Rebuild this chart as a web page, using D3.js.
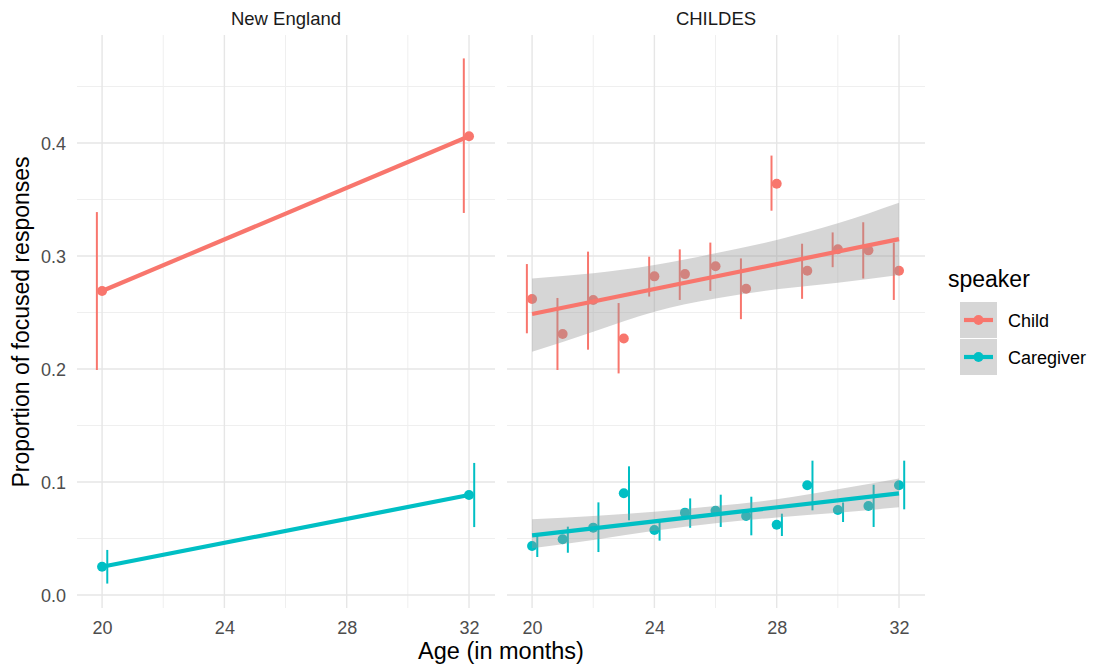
<!DOCTYPE html>
<html>
<head>
<meta charset="utf-8">
<script src="https://cdnjs.cloudflare.com/ajax/libs/d3/7.8.5/d3.min.js"></script>
<style>
body { margin: 0; background: #fff; }
svg { font-family: "Liberation Sans", Arial, sans-serif; }
</style>
</head>
<body>
<svg class="chart" width="1094" height="666"></svg>
<script>
var speakers = ["Child", "Caregiver"],
	panels = ["New England", "CHILDES"],
	xTicks = [20, 24, 28, 32],
	xMinor = [22, 26, 30],
	yTicks = [0, 0.1, 0.2, 0.3, 0.4],
	yMinor = [0.05, 0.15, 0.25, 0.35, 0.45];

// New England: two ages only
var neAges = [20, 32],
	neChild = [0.269, 0.406],
	neChildLo = [0.200, 0.339],
	neChildHi = [0.338, 0.474],
	neCare = [0.025, 0.0885],
	neCareLo = [0.011, 0.061],
	neCareHi = [0.039, 0.116];

// CHILDES: monthly means
var chAges = [20, 21, 22, 23, 24, 25, 26, 27, 28, 29, 30, 31, 32],
	chChild = [0.262, 0.231, 0.261, 0.227, 0.282, 0.284, 0.291, 0.271, 0.364, 0.287, 0.306, 0.305, 0.287],
	chChildLo = [0.2325, 0.200, 0.218, 0.197, 0.265, 0.262, 0.270, 0.245, 0.341, 0.263, 0.291, 0.281, 0.262],
	chChildHi = [0.292, 0.262, 0.303, 0.2575, 0.2985, 0.305, 0.311, 0.297, 0.388, 0.310, 0.320, 0.329, 0.311],
	chCare = [0.0434, 0.0493, 0.0596, 0.090, 0.0575, 0.0729, 0.0746, 0.0699, 0.0622, 0.0971, 0.0752, 0.0788, 0.0971],
	chCareLo = [0.0345, 0.0383, 0.0389, 0.067, 0.049, 0.0604, 0.0611, 0.0537, 0.0531, 0.0758, 0.0655, 0.0611, 0.0767],
	chCareHi = [0.0516, 0.0596, 0.0811, 0.113, 0.066, 0.0846, 0.0879, 0.0861, 0.0711, 0.118, 0.081, 0.0967, 0.118];

// fitted lines and confidence bands
var fitAges = [20, 32],
	neChildFit = [0.269, 0.406],
	neCareFit = [0.025, 0.0885],
	chChildFit = [0.2487, 0.315],
	chCareFit = [0.0528, 0.090],
	bandAges = [20, 22, 24, 26, 28, 30, 32],
	chChildBandLo = [0.2153, 0.233, 0.2507, 0.2625, 0.2705, 0.2764, 0.2832],
	chChildBandHi = [0.2802, 0.2847, 0.292, 0.3024, 0.3142, 0.3289, 0.3472],
	chCareBandLo = [0.0413, 0.0487, 0.0569, 0.0634, 0.0687, 0.0728, 0.0776],
	chCareBandHi = [0.067, 0.0699, 0.0737, 0.0788, 0.0847, 0.0935, 0.1032];

var colors = { Child: "#F8766D", Caregiver: "#00BFC4" },
	gridcolor = "#E6E6E6",
	textcolor = "#4D4D4D",
	dodge = { Child: -0.17, Caregiver: 0.17 };

function rows(ages, m, lo, hi) {
	return ages.map(function(a, i) {
		return { age: a, mean: m[i], lo: lo[i], hi: hi[i] };
	});
}
function pairs(ages, v) {
	return ages.map(function(a, i) { return { age: a, v: v[i] }; });
}

var panelData = [
	{
		name: panels[0], x0: 77,
		series: {
			Child: { pts: rows(neAges, neChild, neChildLo, neChildHi), fit: pairs(fitAges, neChildFit), band: null },
			Caregiver: { pts: rows(neAges, neCare, neCareLo, neCareHi), fit: pairs(fitAges, neCareFit), band: null }
		}
	},
	{
		name: panels[1], x0: 507,
		series: {
			Child: {
				pts: rows(chAges, chChild, chChildLo, chChildHi), fit: pairs(fitAges, chChildFit),
				band: bandAges.map(function(a, i) { return { age: a, lo: chChildBandLo[i], hi: chChildBandHi[i] }; })
			},
			Caregiver: {
				pts: rows(chAges, chCare, chCareLo, chCareHi), fit: pairs(fitAges, chCareFit),
				band: bandAges.map(function(a, i) { return { age: a, lo: chCareBandLo[i], hi: chCareBandHi[i] }; })
			}
		}
	}
];

var svg = d3.select(".chart"),
	panelW = 418,
	plotTop = 35,
	plotBottom = 608;

var y = d3.scaleLinear()
	.domain([-0.0115, 0.4956])
	.range([plotBottom, plotTop]);

panelData.forEach(function(p, pi) {
	var x = d3.scaleLinear()
		.domain([19.18, 32.85])
		.range([p.x0, p.x0 + panelW]);
	var g = svg.append("g");

	// grid
	g.selectAll(".ymin").data(yMinor).enter().append("line")
		.attr("x1", p.x0).attr("x2", p.x0 + panelW)
		.attr("y1", function(d) { return y(d); }).attr("y2", function(d) { return y(d); })
		.attr("stroke", "#EFEFEF").attr("stroke-width", 1);
	g.selectAll(".xmin").data(xMinor).enter().append("line")
		.attr("x1", function(d) { return x(d); }).attr("x2", function(d) { return x(d); })
		.attr("y1", plotTop).attr("y2", plotBottom)
		.attr("stroke", "#EFEFEF").attr("stroke-width", 1);
	g.selectAll(".ymaj").data(yTicks).enter().append("line")
		.attr("x1", p.x0).attr("x2", p.x0 + panelW)
		.attr("y1", function(d) { return y(d); }).attr("y2", function(d) { return y(d); })
		.attr("stroke", gridcolor).attr("stroke-width", 1.4);
	g.selectAll(".xmaj").data(xTicks).enter().append("line")
		.attr("x1", function(d) { return x(d); }).attr("x2", function(d) { return x(d); })
		.attr("y1", plotTop).attr("y2", plotBottom)
		.attr("stroke", gridcolor).attr("stroke-width", 1.4);

	// strip label
	g.append("text")
		.attr("x", p.x0 + panelW / 2)
		.attr("y", 25)
		.attr("text-anchor", "middle")
		.attr("fill", "#1A1A1A")
		.style("font-size", "18.5px")
		.text(p.name);

	// x axis
	var bot = g.append("g")
		.attr("transform", "translate(0," + 615 + ")")
		.call(d3.axisBottom(x).tickValues(xTicks).tickSize(0).tickPadding(0));
	bot.select(".domain").remove();
	bot.selectAll("text")
		.attr("dy", "0")
		.attr("y", 18.5)
		.style("fill", textcolor)
		.style("font-size", "18px")
		.style("font-family", "Liberation Sans, Arial, sans-serif");

	if (pi === 0) {
		var left = g.append("g")
			.attr("transform", "translate(" + 66 + ",0)")
			.call(d3.axisLeft(y).tickValues(yTicks).tickSize(0).tickPadding(0).tickFormat(d3.format(".1f")));
		left.select(".domain").remove();
		left.selectAll("text")
			.attr("dy", "0.36em")
			.style("fill", textcolor)
			.style("font-size", "18px")
			.style("font-family", "Liberation Sans, Arial, sans-serif");
	}

	speakers.forEach(function(s) {
		var ser = p.series[s];
		g.selectAll(".pt" + s).data(ser.pts).enter().append("circle")
			.attr("cx", function(d) { return x(d.age); })
			.attr("cy", function(d) { return y(d.mean); })
			.attr("r", 5)
			.attr("fill", colors[s]);
		g.selectAll(".eb" + s).data(ser.pts).enter().append("line")
			.attr("x1", function(d) { return x(d.age + dodge[s]); })
			.attr("x2", function(d) { return x(d.age + dodge[s]); })
			.attr("y1", function(d) { return y(d.lo); })
			.attr("y2", function(d) { return y(d.hi); })
			.attr("stroke", colors[s])
			.attr("stroke-width", 2)
			.attr("stroke-linecap", "square");
	});

	// smooths: band first, then line
	speakers.forEach(function(s) {
		var ser = p.series[s];
		if (ser.band) {
			g.append("path")
				.datum(ser.band)
				.attr("fill", "#999999")
				.attr("fill-opacity", 0.4)
				.attr("d", d3.area()
					.curve(d3.curveNatural)
					.x(function(d) { return x(d.age); })
					.y0(function(d) { return y(d.lo); })
					.y1(function(d) { return y(d.hi); }));
		}
		g.append("path")
			.datum(ser.fit)
			.attr("fill", "none")
			.attr("stroke", colors[s])
			.attr("stroke-width", 4.2)
			.attr("d", d3.line()
				.x(function(d) { return x(d.age); })
				.y(function(d) { return y(d.v); }));
	});
});

// axis titles
svg.append("text")
	.attr("x", 501)
	.attr("y", 659)
	.attr("text-anchor", "middle")
	.attr("fill", "#000")
	.style("font-size", "23.5px")
	.text("Age (in months)");
svg.append("text")
	.attr("transform", "translate(29,322) rotate(-90)")
	.attr("text-anchor", "middle")
	.attr("fill", "#000")
	.style("font-size", "23px")
	.text("Proportion of focused responses");

// legend
var legend = svg.append("g").attr("transform", "translate(948,0)");
legend.append("text")
	.attr("x", 0)
	.attr("y", 287)
	.attr("fill", "#000")
	.style("font-size", "23px")
	.text("speaker");
var keys = legend.selectAll(".key").data(speakers).enter().append("g")
	.attr("transform", function(d, i) { return "translate(12," + (302 + i * 37) + ")"; });
keys.append("rect")
	.attr("width", 37)
	.attr("height", 36)
	.attr("fill", "#999999")
	.attr("fill-opacity", 0.4);
keys.append("line")
	.attr("x1", 4).attr("x2", 33)
	.attr("y1", 18).attr("y2", 18)
	.attr("stroke", function(d) { return colors[d]; })
	.attr("stroke-width", 4.2);
keys.append("circle")
	.attr("cx", 18.5).attr("cy", 18)
	.attr("r", 5)
	.attr("fill", function(d) { return colors[d]; });
keys.append("text")
	.attr("x", 48)
	.attr("y", 24.5)
	.attr("fill", "#000")
	.style("font-size", "18px")
	.text(function(d) { return d; });
</script>
</body>
</html>
